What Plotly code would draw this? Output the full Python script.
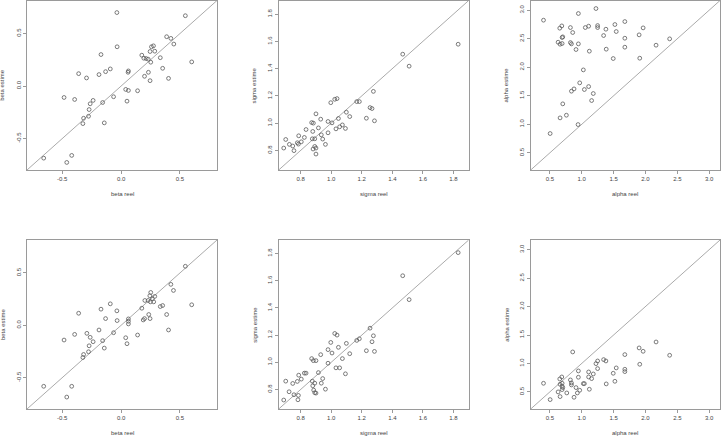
import plotly.graph_objects as go

W, H = 727, 440

# ---------------- data ----------------
beta_reel_top = [-0.036, 0.546, -0.034, -0.171, 0.387, 0.423, 0.448, 0.258, 0.275, 0.286, 0.246, 0.176, 0.193, 0.213, 0.230, 0.333, 0.252, 0.600, 0.353, 0.403, 0.232, 0.199, 0.246, 0.062, 0.059, -0.092, -0.132, -0.188, -0.361, -0.294, 0.039, 0.062, 0.140, -0.064, 0.050, -0.485, -0.395, -0.238, -0.263, -0.157, -0.272, -0.319, -0.277, -0.325, -0.143, -0.658, -0.420, -0.462]
beta_estime_top = [0.70, 0.67, 0.374, 0.30, 0.47, 0.454, 0.40, 0.374, 0.383, 0.332, 0.329, 0.294, 0.265, 0.262, 0.256, 0.27, 0.227, 0.23, 0.169, 0.073, 0.131, 0.093, 0.051, 0.144, 0.131, 0.163, 0.137, 0.109, 0.118, 0.077, -0.032, -0.042, -0.045, -0.102, -0.144, -0.109, -0.128, -0.137, -0.169, -0.157, -0.224, -0.307, -0.288, -0.358, -0.351, -0.687, -0.661, -0.728]

beta_reel_bot = [0.546, 0.423, 0.445, 0.600, 0.252, 0.286, 0.266, 0.244, 0.202, 0.230, 0.249, 0.277, 0.353, 0.333, 0.176, 0.235, 0.387, 0.246, 0.199, 0.188, 0.062, 0.062, 0.062, -0.034, 0.403, -0.092, -0.171, -0.036, -0.361, -0.132, -0.188, -0.291, -0.395, -0.064, 0.140, 0.039, -0.485, -0.263, -0.238, -0.157, -0.143, 0.050, -0.272, -0.277, -0.319, -0.325, -0.658, -0.420, -0.462]
beta_estime_bot = [0.564, 0.391, 0.333, 0.196, 0.314, 0.276, 0.253, 0.282, 0.237, 0.237, 0.224, 0.224, 0.189, 0.179, 0.163, 0.103, 0.103, 0.064, 0.064, 0.051, 0.061, 0.038, 0.013, 0.045, -0.045, 0.205, 0.154, 0.138, 0.115, 0.064, -0.045, -0.077, -0.087, -0.071, -0.093, -0.119, -0.141, -0.115, -0.157, -0.147, -0.218, -0.176, -0.196, -0.253, -0.279, -0.308, -0.583, -0.583, -0.686]

sigma_reel_top = [1.831, 1.468, 1.510, 1.276, 1.038, 1.023, 0.997, 1.167, 1.184, 1.254, 1.267, 1.230, 1.283, 1.099, 1.121, 1.047, 0.900, 0.931, 0.872, 0.883, 0.979, 1.005, 0.916, 0.835, 1.073, 1.055, 1.031, 1.093, 0.979, 0.879, 0.935, 0.944, 0.962, 0.787, 0.824, 0.876, 0.892, 0.702, 0.804, 0.778, 0.785, 0.726, 0.748, 0.892, 0.881, 0.900, 0.756, 0.689, 0.900]
sigma_estime_top = [1.579, 1.506, 1.418, 1.233, 1.180, 1.175, 1.150, 1.158, 1.158, 1.114, 1.107, 1.036, 1.017, 1.080, 1.048, 1.034, 1.068, 1.029, 1.004, 1.000, 1.012, 1.002, 0.965, 0.953, 0.987, 0.973, 0.958, 0.961, 0.929, 0.939, 0.914, 0.883, 0.844, 0.907, 0.895, 0.885, 0.885, 0.880, 0.863, 0.856, 0.846, 0.844, 0.832, 0.829, 0.810, 0.817, 0.798, 0.817, 0.773]

sigma_reel_bot = [1.831, 1.468, 1.510, 1.254, 1.023, 1.038, 0.997, 1.167, 1.184, 1.276, 1.267, 1.099, 1.047, 1.121, 1.230, 1.283, 0.979, 0.931, 1.005, 0.872, 0.883, 0.900, 1.073, 0.979, 1.031, 1.055, 1.093, 0.916, 0.824, 0.835, 0.787, 0.804, 0.702, 0.778, 0.748, 0.944, 0.935, 0.876, 0.892, 0.879, 0.885, 0.962, 0.892, 0.900, 0.724, 0.756, 0.785, 0.689, 0.782]
sigma_estime_bot = [1.807, 1.637, 1.461, 1.251, 1.212, 1.200, 1.146, 1.161, 1.173, 1.195, 1.151, 1.139, 1.110, 1.063, 1.085, 1.080, 1.093, 1.056, 1.068, 1.027, 1.012, 1.012, 1.027, 0.993, 0.959, 0.959, 0.915, 0.924, 0.920, 0.920, 0.905, 0.876, 0.861, 0.859, 0.844, 0.880, 0.846, 0.861, 0.846, 0.827, 0.795, 0.802, 0.776, 0.773, 0.783, 0.761, 0.756, 0.722, 0.724]

alpha_reel_top = [0.401, 1.224, 0.948, 0.688, 0.656, 0.823, 1.057, 1.109, 1.25, 1.25, 0.859, 0.693, 0.703, 0.630, 0.661, 0.693, 0.823, 0.839, 0.948, 0.911, 1.120, 1.380, 1.344, 1.521, 1.542, 1.677, 1.964, 1.677, 1.901, 1.385, 1.677, 1.495, 1.911, 2.167, 2.380, 1.026, 0.969, 1.109, 1.042, 0.880, 0.839, 1.182, 1.156, 0.703, 0.760, 0.661, 0.943, 0.505]
alpha_estime_top = [2.825, 3.029, 2.942, 2.725, 2.685, 2.696, 2.696, 2.720, 2.731, 2.696, 2.609, 2.521, 2.533, 2.439, 2.404, 2.416, 2.433, 2.410, 2.410, 2.311, 2.282, 2.667, 2.556, 2.749, 2.626, 2.801, 2.690, 2.509, 2.568, 2.317, 2.352, 2.153, 2.159, 2.387, 2.498, 1.954, 1.727, 1.662, 1.610, 1.621, 1.581, 1.540, 1.417, 1.359, 1.160, 1.113, 0.996, 0.839]

alpha_reel_bot = [2.167, 1.901, 1.964, 2.380, 1.677, 0.859, 1.344, 1.380, 1.25, 1.224, 1.911, 1.542, 1.677, 1.677, 1.25, 0.948, 1.109, 1.182, 1.495, 1.109, 1.156, 0.948, 0.688, 0.656, 0.823, 0.839, 1.042, 1.026, 1.385, 0.401, 1.521, 0.693, 0.661, 0.839, 0.693, 0.703, 0.911, 0.969, 0.630, 0.766, 0.932, 1.120, 0.661, 0.880, 0.505, 0.693]
alpha_estime_bot = [1.378, 1.273, 1.214, 1.144, 1.156, 1.203, 1.068, 1.044, 1.044, 0.997, 0.986, 0.922, 0.898, 0.857, 0.910, 0.869, 0.851, 0.816, 0.828, 0.763, 0.734, 0.758, 0.763, 0.728, 0.711, 0.658, 0.646, 0.646, 0.641, 0.652, 0.687, 0.652, 0.635, 0.623, 0.600, 0.576, 0.576, 0.529, 0.500, 0.482, 0.482, 0.547, 0.418, 0.406, 0.365, 0.541]

beta_ticks = [-0.5, 0.0, 0.5]
beta_ticktext = ["-0.5", "0.0", "0.5"]
sigma_ticks = [0.8, 1.0, 1.2, 1.4, 1.6, 1.8]
sigma_ticktext = ["0.8", "1.0", "1.2", "1.4", "1.6", "1.8"]
alpha_ticks = [0.5, 1.0, 1.5, 2.0, 2.5, 3.0]
alpha_ticktext = ["0.5", "1.0", "1.5", "2.0", "2.5", "3.0"]

# ---------------- layout geometry (pixels) ----------------
col_px = [(27, 217), (278.7, 468.7), (530.7, 720)]
row_px = [(0.5, 170), (240, 409)]
ranges = [[-0.80, 0.815], [0.656, 1.90], [0.20, 3.17]]

panels = [
    (0, 0, beta_reel_top, beta_estime_top, "beta reel", "beta estime", beta_ticks, beta_ticktext),
    (0, 1, sigma_reel_top, sigma_estime_top, "sigma reel", "sigma estime", sigma_ticks, sigma_ticktext),
    (0, 2, alpha_reel_top, alpha_estime_top, "alpha reel", "alpha estime", alpha_ticks, alpha_ticktext),
    (1, 0, beta_reel_bot, beta_estime_bot, "beta reel", "beta estime", beta_ticks, beta_ticktext),
    (1, 1, sigma_reel_bot, sigma_estime_bot, "sigma reel", "sigma estime", sigma_ticks, sigma_ticktext),
    (1, 2, alpha_reel_bot, alpha_estime_bot, "alpha reel", "alpha estime", alpha_ticks, alpha_ticktext),
]

FONT = "Liberation Sans, Arial, sans-serif"
TXT = "#444444"
LINE = "#9a9a9a"

fig = go.Figure()
layout = {}
annotations = []
shapes = []

for i, (r, c, xs, ys, xt, yt, tv, tt) in enumerate(panels):
    n = i + 1
    xa = "xaxis" if n == 1 else f"xaxis{n}"
    ya = "yaxis" if n == 1 else f"yaxis{n}"
    xr = "x" if n == 1 else f"x{n}"
    yr = "y" if n == 1 else f"y{n}"
    x0, x1 = col_px[c]
    ytop, ybot = row_px[r]
    rng = ranges[c]
    common = dict(
        range=rng, showgrid=False, zeroline=False, showline=True, mirror=True,
        linecolor=LINE, linewidth=1, ticks="outside", ticklen=3, tickwidth=1,
        tickcolor=LINE, tickmode="array", tickvals=tv, ticktext=tt,
        tickfont=dict(family=FONT, size=6, color=TXT),
    )
    layout[xa] = dict(common, domain=[x0 / W, x1 / W], anchor=yr)
    layout[ya] = dict(common, domain=[1 - ybot / H, 1 - ytop / H], anchor=xr, tickangle=-90)

    fig.add_trace(go.Scatter(
        x=xs, y=ys, mode="markers", xaxis=xr, yaxis=yr, showlegend=False,
        marker=dict(symbol="circle-open", size=3.8, color="#5a5a5a", line=dict(width=0.8, color="#5a5a5a")),
        hoverinfo="skip",
    ))
    # y = x reference line (abline(0,1))
    shapes.append(dict(type="line", xref=xr, yref=yr, x0=rng[0], y0=rng[0], x1=rng[1], y1=rng[1],
                       line=dict(color="#aaaaaa", width=1), layer="below"))
    # axis titles
    annotations.append(dict(text=xt, xref="paper", yref="paper", x=(x0 + x1) / 2 / W,
                            y=1 - (ybot + 24) / H, showarrow=False, xanchor="center", yanchor="middle",
                            font=dict(family=FONT, size=6, color=TXT)))
    annotations.append(dict(text=yt, xref="paper", yref="paper", x=(x0 - 24.4) / W,
                            y=1 - (ytop + ybot) / 2 / H, showarrow=False, xanchor="center", yanchor="middle",
                            textangle=-90, font=dict(family=FONT, size=6, color=TXT)))

fig.update_layout(
    width=W, height=H, margin=dict(l=0, r=0, t=0, b=0),
    paper_bgcolor="white", plot_bgcolor="white",
    annotations=annotations, shapes=shapes, **layout,
)

fig.write_html("out.html")
